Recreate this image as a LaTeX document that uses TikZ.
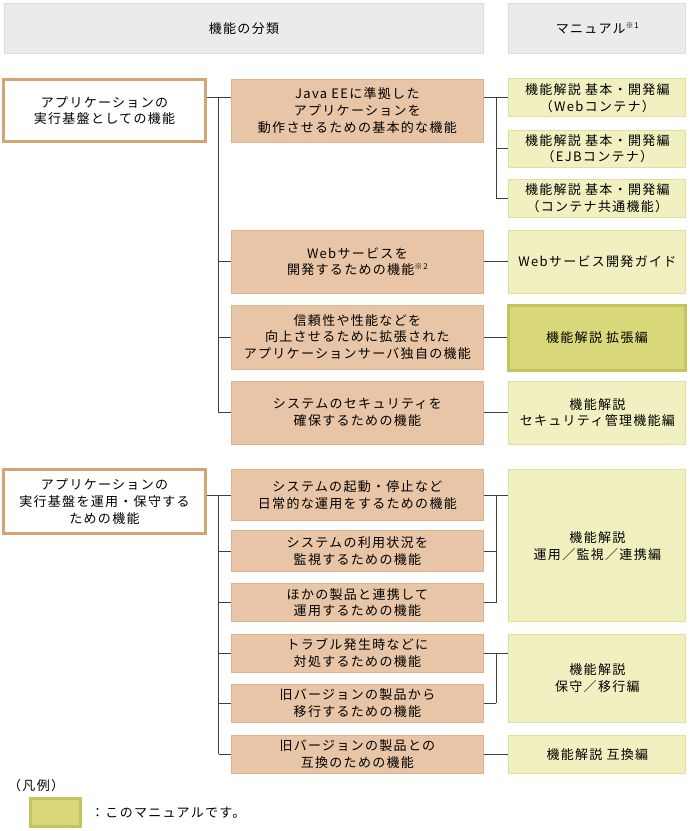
\documentclass[tikz,border=0pt]{standalone}
\usepackage{fontspec}
\setmainfont[LetterSpace=10]{Noto Sans CJK JP}
\definecolor{hdrfill}{HTML}{EBEBEB}
\definecolor{hdredge}{HTML}{DCDCDC}
\definecolor{lefttan}{HTML}{D4A574}
\definecolor{midfill}{HTML}{E8C5A6}
\definecolor{midedge}{HTML}{DDB38C}
\definecolor{rfill}{HTML}{F0F0C0}
\definecolor{redge}{HTML}{E0E09E}
\definecolor{hfill}{HTML}{D8D87A}
\definecolor{hedge}{HTML}{C4C45C}
\tikzset{
  base/.style={font=\fontsize{13}{16.7}\selectfont, align=center, inner sep=0pt, anchor=center, text=black},
  hdr/.style={base, draw=hdredge, fill=hdrfill, line width=1pt},
  lbox/.style={base, draw=lefttan, fill=white, line width=3pt},
  mbox/.style={base, draw=midedge, fill=midfill, line width=1pt},
  rbox/.style={base, draw=redge, fill=rfill, line width=1pt},
  hbox/.style={base, draw=hedge, fill=hfill, line width=3pt},
  conn/.style={draw=black!75, line width=1pt},
  plain/.style={base, anchor=west},
}
\newcommand{\supnote}[1]{\raisebox{5pt}{\fontsize{8}{8}\selectfont #1}}
\begin{document}
\begin{tikzpicture}[x=1pt,y=-1pt]
\useasboundingbox (0,0) rectangle (689,831);
% headers
\node[hdr, minimum width=479pt, minimum height=50pt] (H1) at (244,28.3) {機能の分類};
\node[hdr, minimum width=177pt, minimum height=50pt] (H2) at (597.4,28.3) {マニュアル\supnote{※1}};
% left boxes
\node[lbox, minimum width=201.5pt, minimum height=62.6pt] (L1) at (104.5,110.5) {アプリケーションの\\実行基盤としての機能};
\node[lbox, minimum width=201.5pt, minimum height=63.7pt] (L2) at (104.5,501.7) {アプリケーションの\\実行基盤を運用・保守する\\ための機能};
% middle boxes
\node[mbox, minimum width=252pt, minimum height=63pt] (M1) at (357.4,110.7) {Java EEに準拠した\\アプリケーションを\\動作させるための基本的な機能};
\node[mbox, minimum width=252pt, minimum height=63pt] (M2) at (357.4,261.7) {Webサービスを\\開発するための機能\supnote{※2}};
\node[mbox, minimum width=252pt, minimum height=64pt] (M3) at (357.4,337) {信頼性や性能などを\\向上させるために拡張された\\アプリケーションサーバ独自の機能};
\node[mbox, minimum width=252pt, minimum height=63pt] (M4) at (357.4,412.5) {システムのセキュリティを\\確保するための機能};
\node[mbox, minimum width=252pt, minimum height=50.7pt] (M5) at (357.4,495.3) {システムの起動・停止など\\日常的な運用をするための機能};
\node[mbox, minimum width=252pt, minimum height=41pt] (M6) at (357.4,551.2) {システムの利用状況を\\監視するための機能};
\node[mbox, minimum width=252pt, minimum height=38.4pt] (M7) at (357.4,602.5) {ほかの製品と連携して\\運用するための機能};
\node[mbox, minimum width=252pt, minimum height=38.3pt] (M8) at (357.4,653.2) {トラブル発生時などに\\対処するための機能};
\node[mbox, minimum width=252pt, minimum height=38pt] (M9) at (357.4,703.3) {旧バージョンの製品から\\移行するための機能};
\node[mbox, minimum width=252pt, minimum height=38.3pt] (M10) at (357.4,754.2) {旧バージョンの製品との\\互換のための機能};
% right boxes
\node[rbox, minimum width=177pt, minimum height=37.7pt] (R1) at (597.4,97.8) {機能解説 基本・開発編\\（Webコンテナ）};
\node[rbox, minimum width=177pt, minimum height=37.3pt] (R2) at (597.4,148.7) {機能解説 基本・開発編\\（EJBコンテナ）};
\node[rbox, minimum width=177pt, minimum height=38pt] (R3) at (597.4,198.3) {機能解説 基本・開発編\\（コンテナ共通機能）};
\node[rbox, minimum width=177pt, minimum height=63pt] (RW) at (597.4,261.7) {Webサービス開発ガイド};
\node[hbox, minimum width=177pt, minimum height=65pt] (RH) at (597,338) {機能解説 拡張編};
\node[rbox, minimum width=177pt, minimum height=63pt] (R4) at (597.4,412.5) {機能解説\\セキュリティ管理機能編};
\node[rbox, minimum width=177pt, minimum height=151.7pt] (R5) at (597.4,545.8) {機能解説\\運用／監視／連携編};
\node[rbox, minimum width=177pt, minimum height=88.3pt] (R6) at (597.4,678.2) {機能解説\\保守／移行編};
\node[rbox, minimum width=177pt, minimum height=38.3pt] (R7) at (597.4,754.2) {機能解説 互換編};
% junction coordinates
\coordinate (ja) at (218.5,0);
\coordinate (jb) at (496,0);
% connectors, first group
\draw[conn] (L1.east |- R1.west) -- (M1.west |- R1.west);
\draw[conn] (ja |- R1.west) -- (ja |- M4.west);
\draw[conn] (ja |- M2.west) -- (M2.west);
\draw[conn] (ja |- M3.west) -- (M3.west);
\draw[conn] (ja |- M4.west) -- (M4.west);
\draw[conn] (M1.east |- R1.west) -- (R1.west);
\draw[conn] (jb |- R1.west) -- (jb |- R3.west);
\draw[conn] (jb |- R2.west) -- (R2.west);
\draw[conn] (jb |- R3.west) -- (R3.west);
\draw[conn] (M2.east) -- (RW.west);
\draw[conn] (M3.east) -- (RH.west |- M3.east);
\draw[conn] (M4.east) -- (R4.west);
% connectors, second group
\draw[conn] (L2.east |- M5.west) -- (M5.west);
\draw[conn] (ja |- M5.west) -- (ja |- M10.west);
\draw[conn] (ja |- M6.west) -- (M6.west);
\draw[conn] (ja |- M7.west) -- (M7.west);
\draw[conn] (ja |- M8.west) -- (M8.west);
\draw[conn] (ja |- M9.west) -- (M9.west);
\draw[conn] (ja |- M10.west) -- (M10.west);
\draw[conn] (M5.east) -- (R5.west |- M5.east);
\draw[conn] (jb |- M5.east) -- (jb |- M7.east);
\draw[conn] (M6.east) -- (jb |- M6.east);
\draw[conn] (M7.east) -- (jb |- M7.east);
\draw[conn] (M8.east) -- (R6.west |- M8.east);
\draw[conn] (jb |- M8.east) -- (jb |- M9.east);
\draw[conn] (M9.east) -- (jb |- M9.east);
\draw[conn] (M10.east) -- (R7.west);
% legend
\node[plain] (LG) at (8,786) {（凡例）};
\node[hbox, minimum width=50pt, minimum height=28.6pt] (LB) at (55,812.5) {};
\node[plain] (LT) at (91,812.7) {：このマニュアルです。};
\end{tikzpicture}
\end{document}
